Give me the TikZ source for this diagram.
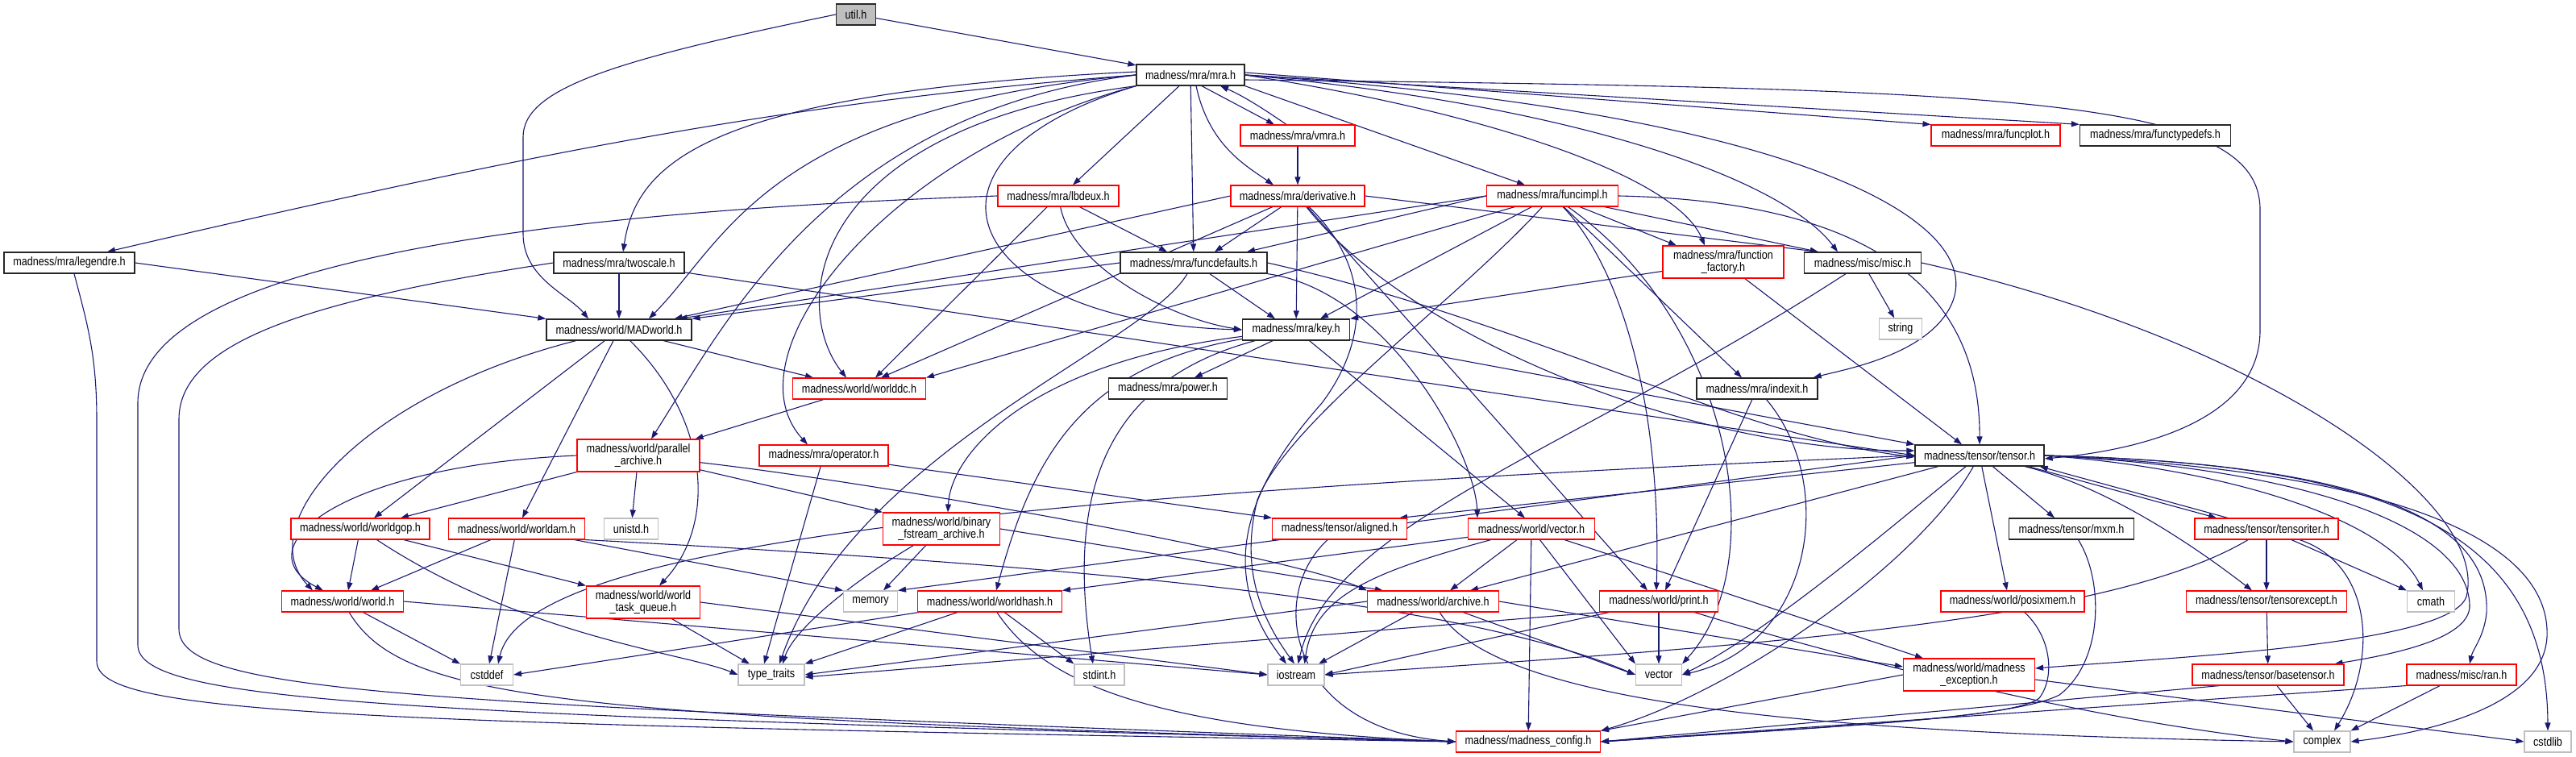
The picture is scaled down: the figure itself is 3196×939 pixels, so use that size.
\documentclass[tikz,border=0pt]{standalone}
\usepackage{fontspec}
\setmainfont{Liberation Sans}[FakeStretch=0.84]
\usepackage{xcolor}
\usepackage{tikz}
\usetikzlibrary{arrows.meta, backgrounds}

\definecolor{edgeblue}{HTML}{191970}
\definecolor{sysgray}{HTML}{BFBFBF}
\definecolor{boxred}{HTML}{FF0000}
\newcommand{\hfont}{\fontsize{15}{15}\selectfont}

\begin{document}
\begin{tikzpicture}[
  x=1pt, y=-1pt,
  hdr/.style={draw=black!85, line width=1.3pt, fill=white, inner sep=0pt, minimum height=26pt, font=\hfont, align=center},
  redhdr/.style={hdr, draw=boxred, line width=1.1pt},
  syshdr/.style={hdr, draw=sysgray, line width=1.1pt},
  roothdr/.style={hdr, fill=sysgray},
  tall/.style={minimum height=40pt},
  incl/.style={draw=edgeblue, line width=1.1pt, -{Triangle[length=10pt,width=7pt]}},
]
  \useasboundingbox (0,0) rectangle (3196,939);

  % ── Top rows ──
  \node[roothdr, minimum width=49pt] (util) at (1062,18) {util.h};
  \node[hdr, minimum width=134pt] (mra) at (1477,93) {madness/mra/mra.h};
  \node[redhdr, minimum width=142pt] (vmra) at (1610,168) {madness/mra/vmra.h};
  \node[redhdr, minimum width=160pt] (funcplot) at (2476,168) {madness/mra/funcplot.h};
  \node[hdr, minimum width=187pt] (functypedefs) at (2674,168) {madness/mra/functypedefs.h};
  \node[redhdr, minimum width=150pt] (lbdeux) at (1313,243) {madness/mra/lbdeux.h};
  \node[redhdr, minimum width=166pt] (derivative) at (1610,243) {madness/mra/derivative.h};
  \node[redhdr, minimum width=163pt] (funcimpl) at (1926,243) {madness/mra/funcimpl.h};

  % ── Middle rows ──
  \node[hdr, minimum width=162pt] (legendre) at (86,326) {madness/mra/legendre.h};
  \node[hdr, minimum width=162pt] (twoscale) at (768,326) {madness/mra/twoscale.h};
  \node[hdr, minimum width=182pt] (funcdefaults) at (1481,326) {madness/mra/funcdefaults.h};
  \node[redhdr, tall, minimum width=150pt] (factory) at (2138,325) {madness/mra/function\\\_factory.h};
  \node[hdr, minimum width=145pt] (misc) at (2311,326) {madness/misc/misc.h};
  \node[hdr, minimum width=180pt] (MADworld) at (768,409) {madness/world/MADworld.h};
  \node[hdr, minimum width=133pt] (key) at (1608,409) {madness/mra/key.h};
  \node[syshdr, minimum width=53pt] (string) at (2358,408) {string};
  \node[redhdr, minimum width=165pt] (worlddc) at (1066,482) {madness/world/worlddc.h};
  \node[hdr, minimum width=147pt] (power) at (1449,482) {madness/mra/power.h};
  \node[hdr, minimum width=150pt] (indexit) at (2180,482) {madness/mra/indexit.h};
  \node[redhdr, tall, minimum width=152pt] (parallel) at (792,565) {madness/world/parallel\\\_archive.h};
  \node[redhdr, minimum width=160pt] (operator) at (1022,565) {madness/mra/operator.h};
  \node[hdr, minimum width=160pt] (tensor) at (2456,565) {madness/tensor/tensor.h};

  % ── Lower rows ──
  \node[redhdr, minimum width=172pt] (worldgop) at (447,656) {madness/world/worldgop.h};
  \node[redhdr, minimum width=169pt] (worldam) at (641,656) {madness/world/worldam.h};
  \node[syshdr, minimum width=67pt] (unistd) at (783,656) {unistd.h};
  \node[redhdr, tall, minimum width=145pt] (binary) at (1168,656) {madness/world/binary\\\_fstream\_archive.h};
  \node[redhdr, minimum width=167pt] (aligned) at (1662,656) {madness/tensor/aligned.h};
  \node[redhdr, minimum width=157pt] (vectorh) at (1900,656) {madness/world/vector.h};
  \node[hdr, minimum width=155pt] (mxm) at (2570,656) {madness/tensor/mxm.h};
  \node[redhdr, minimum width=178pt] (tensoriter) at (2812,656) {madness/tensor/tensoriter.h};
  \node[redhdr, minimum width=151pt] (world) at (425,746) {madness/world/world.h};
  \node[redhdr, tall, minimum width=141pt] (taskq) at (798,747) {madness/world/world\\\_task\_queue.h};
  \node[syshdr, minimum width=67pt] (memory) at (1080,746) {memory};
  \node[redhdr, minimum width=179pt] (worldhash) at (1228,746) {madness/world/worldhash.h};
  \node[redhdr, minimum width=163pt] (archive) at (1778,746) {madness/world/archive.h};
  \node[redhdr, minimum width=147pt] (print) at (2058,746) {madness/world/print.h};
  \node[redhdr, minimum width=178pt] (posixmem) at (2497,746) {madness/world/posixmem.h};
  \node[redhdr, minimum width=199pt] (tensorexcept) at (2812,746) {madness/tensor/tensorexcept.h};
  \node[syshdr, minimum width=59pt] (cmath) at (3016,746) {cmath};

  % ── Bottom rows ──
  \node[syshdr, minimum width=65pt] (cstddef) at (604,837) {cstddef};
  \node[syshdr, minimum width=82pt] (typetraits) at (957,837) {type\_traits};
  \node[syshdr, minimum width=62pt] (stdint) at (1364,837) {stdint.h};
  \node[syshdr, minimum width=70pt] (iostream) at (1608,837) {iostream};
  \node[syshdr, minimum width=57pt] (vector) at (2058,837) {vector};
  \node[redhdr, tall, minimum width=163pt] (exception) at (2443,837) {madness/world/madness\\\_exception.h};
  \node[redhdr, minimum width=188pt] (basetensor) at (2814,837) {madness/tensor/basetensor.h};
  \node[redhdr, minimum width=136pt] (ran) at (3054,837) {madness/misc/ran.h};
  \node[redhdr, minimum width=179pt] (config) at (1896,920) {madness/madness\_config.h};
  \node[syshdr, minimum width=70pt] (complex) at (2881,920) {complex};
  \node[syshdr, minimum width=58pt] (cstdlib) at (3161,920) {cstdlib};

  \begin{scope}[on background layer]
  % ── util.h ──
  \draw[incl] (util) -- (mra);
  \draw[incl] (util.west) .. controls (760,75) and (649,110) .. (649,170) -- (649,290) .. controls (649,345) and (705,365) .. ([xshift=-38pt]MADworld.north);

  % ── mra.h ──
  \draw[incl] ([xshift=14pt]mra.south) -- ([xshift=-29pt]vmra.north);
  \draw[incl] ([xshift=-14pt]vmra.north) .. controls (1575,140) and (1545,120) .. ([xshift=37pt]mra.south);
  \draw[incl] ([yshift=3pt]mra.east) -- (funcplot.north west);
  \draw[incl] (mra.east) -- (functypedefs.north west);
  \draw[incl] ([yshift=-6pt]mra.east) .. controls (2500,110) and (2804,120) .. (2804,260) -- (2804,410) .. controls (2804,520) and (2660,558) .. ([yshift=-4pt]tensor.east);
  \draw[incl] (mra.west) .. controls (1000,125) and (700,180) .. ([xshift=47pt]legendre.north);
  \draw[incl] ([yshift=4pt]mra.west) .. controls (880,115) and (790,200) .. ([xshift=5pt]twoscale.north);
  \draw[incl] (mra.west) .. controls (950,135) and (900,300) .. ([xshift=37pt]MADworld.north);
  \draw[incl] (mra.west) .. controls (1030,140) and (900,400) .. ([xshift=16pt]parallel.north);
  \draw[incl] (mra.south west) .. controls (1000,160) and (980,380) .. ([xshift=-16pt]worlddc.north);
  \draw[incl] (mra.south west) .. controls (1100,190) and (900,440) .. ([xshift=-20pt]operator.north);
  \draw[incl] (mra.south west) .. controls (1100,200) and (1200,400) .. (key.west);
  \draw[incl] ([xshift=-14pt]mra.south) -- ([xshift=18pt]lbdeux.north);
  \draw[incl] (mra) -- (funcdefaults);
  \draw[incl] ([xshift=7pt]mra.south) .. controls (1500,180) and (1545,205) .. ([xshift=-30pt]derivative.north);
  \draw[incl] (mra.south east) -- ([xshift=-34pt]funcimpl.north);
  \draw[incl] (mra.east) .. controls (1850,140) and (2080,220) .. ([xshift=-23pt]factory.north);
  \draw[incl] (mra.east) .. controls (1950,130) and (2210,220) .. ([xshift=-31pt]misc.north);
  \draw[incl] (mra.east) .. controls (2250,140) and (2470,280) .. (2420,380) .. controls (2390,440) and (2290,458) .. ([xshift=-6pt]indexit.north east);

  % ── vmra.h, legendre.h, twoscale.h ──
  \draw[incl] (vmra) -- (derivative);
  \draw[incl] (legendre.east) -- (MADworld.north west);
  \draw[incl] ([xshift=6pt]legendre.south) .. controls (108,400) and (120,440) .. (120,520) -- (120,820) .. controls (120,885) and (400,897) .. (config.west);
  \draw[incl] (twoscale) -- (MADworld);
  \draw[incl] (twoscale.west) .. controls (400,370) and (222,420) .. (222,520) -- (222,780) .. controls (222,860) and (500,872) .. (config.west);
  \draw[incl] (twoscale) -- (tensor.west);

  % ── lbdeux.h ──
  \draw[incl] (lbdeux) -- ([xshift=-33pt]funcdefaults.north);
  \draw[incl] (lbdeux) -- ([xshift=20pt]worlddc.north);
  \draw[incl] (lbdeux) .. controls (1330,330) and (1450,395) .. (key.west);
  \draw[incl] (lbdeux.west) .. controls (700,262) and (171,320) .. (171,500) -- (171,800) .. controls (171,872) and (500,886) .. (config.west);

  % ── derivative.h ──
  \draw[incl] (derivative) -- ([xshift=26pt]funcdefaults.north);
  \draw[incl] (derivative.west) -- ([xshift=-22pt]MADworld.north east);
  \draw[incl] (derivative) -- ([xshift=27pt]worlddc.north);
  \draw[incl] (derivative) -- (key);
  \draw[incl] (derivative.east) -- ([xshift=18pt]misc.north west);
  \draw[incl] (derivative) .. controls (1750,420) and (2100,560) .. ([yshift=6pt]tensor.west);
  \draw[incl] (derivative) .. controls (1700,330) and (1700,420) .. (1640,500) .. controls (1560,590) and (1500,700) .. ([xshift=-12pt]iostream.north);
  \draw[incl] (derivative) -- ([xshift=-14pt]print.north);

  % ── funcimpl.h ──
  \draw[incl] (funcimpl.west) -- ([xshift=66pt]funcdefaults.north);
  \draw[incl] (funcimpl.west) -- ([xshift=-16pt]MADworld.north east);
  \draw[incl] (funcimpl) -- ([xshift=30pt]key.north);
  \draw[incl] (funcimpl) -- (worlddc.north east);
  \draw[incl] (funcimpl) -- ([xshift=18pt]misc.north west);
  \draw[incl] (funcimpl) -- ([xshift=-58pt]factory.north);
  \draw[incl] (funcimpl) -- ([xshift=-19pt]indexit.north);
  \draw[incl] (funcimpl) .. controls (2010,330) and (2062,500) .. ([xshift=-3pt]print.north);
  \draw[incl] (funcimpl) .. controls (1800,380) and (1600,520) .. (1560,620) .. controls (1540,700) and (1560,760) .. ([xshift=-2pt]iostream.north);
  \draw[incl] (funcimpl.east) .. controls (2350,250) and (2457,380) .. (tensor.north);
  \draw[incl] (funcimpl) .. controls (2150,400) and (2200,700) .. (vector.north east);

  % ── funcdefaults.h, function_factory.h, misc.h ──
  \draw[incl] (funcdefaults.west) -- (MADworld.north east);
  \draw[incl] (funcdefaults) -- ([xshift=-26pt]key.north);
  \draw[incl] (funcdefaults.east) .. controls (1900,400) and (2150,540) .. ([yshift=-2pt]tensor.west);
  \draw[incl] (funcdefaults.south east) .. controls (1720,360) and (1830,560) .. ([xshift=-67pt]vectorh.north);
  \draw[incl] (funcdefaults) .. controls (1420,430) and (1060,560) .. ([xshift=10pt]typetraits.north);
  \draw[incl] (factory) -- (key.north east);
  \draw[incl] (factory) -- ([xshift=-22pt]tensor.north);
  \draw[incl] (misc) -- (string);
  \draw[incl] (misc) .. controls (1950,560) and (1650,650) .. ([xshift=-33pt]iostream.north east);
  \draw[incl] (misc.east) .. controls (2800,420) and (3090,620) .. (3060,740) .. controls (3040,800) and (2700,815) .. ([yshift=8pt]exception.east);

  % ── key.h ──
  \draw[incl] (key) -- ([xshift=33pt]power.north);
  \draw[incl] (key) -- (tensor.north west);
  \draw[incl] (key) .. controls (1340,455) and (1280,570) .. ([xshift=8pt]worldhash.north);
  \draw[incl] (key) .. controls (1280,450) and (1180,560) .. ([xshift=8pt]binary.north);
  \draw[incl] (key) -- ([xshift=-8pt]vectorh.north);
  \draw[incl] (key) .. controls (1380,470) and (1320,600) .. ([xshift=-8pt]stdint.north);

  % ── world headers ──
  \draw[incl] (worlddc) -- ([xshift=-6pt]parallel.north east);
  \draw[incl] (MADworld) -- ([xshift=-57pt]worlddc.north);
  \draw[incl] (MADworld) -- ([xshift=17pt]worldgop.north);
  \draw[incl] (MADworld) -- ([xshift=7pt]worldam.north);
  \draw[incl] (MADworld) .. controls (450,490) and (310,650) .. ([xshift=-37pt]world.north);
  \draw[incl] (MADworld) .. controls (880,520) and (890,650) .. ([xshift=20pt]taskq.north);
  \draw[incl] (parallel.south west) -- ([xshift=50pt]worldgop.north);
  \draw[incl] (parallel.west) .. controls (420,578) and (300,680) .. ([xshift=-24pt]world.north);
  \draw[incl] (parallel) -- (binary.north west);
  \draw[incl] (parallel) .. controls (1100,600) and (1600,690) .. (archive.north west);
  \draw[incl] (parallel) -- (unistd);
  \draw[incl] (worldgop) -- ([xshift=7pt]world.north);
  \draw[incl] (worldgop) -- (taskq.north west);
  \draw[incl] (worldgop) .. controls (650,790) and (850,810) .. (typetraits.west);
  \draw[incl] (worldam) -- ([xshift=35pt]world.north);
  \draw[incl] (worldam) -- ([xshift=3pt]cstddef.north);
  \draw[incl] (worldam) -- (memory.north west);
  \draw[incl] (worldam.south east) .. controls (1300,700) and (1800,740) .. (vector.west);
  \draw[incl] (world) -- (cstddef.north west);
  \draw[incl] (world) .. controls (500,870) and (700,890) .. (config.west);
  \draw[incl] (world.east) -- (iostream.west);
  \draw[incl] (taskq) -- ([xshift=-27pt]typetraits.north);
  \draw[incl] (taskq.east) -- (iostream.west);
  \draw[incl] (binary) -- ([xshift=16pt]memory.north);
  \draw[incl] (binary) .. controls (1060,720) and (985,780) .. ([xshift=14pt]typetraits.north);
  \draw[incl] (binary.east) -- ([xshift=20pt]archive.north west);
  \draw[incl] (worldhash) -- (cstddef.east);
  \draw[incl] (worldhash) -- (typetraits.north east);
  \draw[incl] (worldhash) -- (stdint.north west);
  \draw[incl] (worldhash) .. controls (1300,855) and (1450,905) .. (config.west);

  % ── aligned.h, operator.h, vector.h ──
  \draw[incl] (aligned) .. controls (1570,740) and (1600,905) .. (config.west);
  \draw[incl] (operator) -- (aligned.north west);
  \draw[incl] (operator) -- ([xshift=-9pt]typetraits.north);
  \draw[incl] (vectorh) -- (worldhash.north east);
  \draw[incl] (vectorh) .. controls (1700,710) and (1630,740) .. ([xshift=-25pt]iostream.north east);
  \draw[incl] (vectorh) -- ([xshift=21pt]archive.north);
  \draw[incl] (vectorh) -- (config);
  \draw[incl] (vectorh) -- (vector.north west);
  \draw[incl] (vectorh) -- ([xshift=25pt]exception.north west);

  % ── archive.h, print.h, indexit.h ──
  \draw[incl] (archive.west) -- (typetraits.east);
  \draw[incl] (archive) -- ([xshift=28pt]iostream.north);
  \draw[incl] (archive) -- (vector.west);
  \draw[incl] (archive) .. controls (1860,880) and (2300,910) .. (complex.west);
  \draw[incl] (archive.east) -- ([yshift=10pt]exception.west);
  \draw[incl] (print.south west) -- ([yshift=-3pt]typetraits.east);
  \draw[incl] (print) -- (iostream.east);
  \draw[incl] (print) -- (vector);
  \draw[incl] (print) .. controls (2300,820) and (2600,895) .. (complex.west);
  \draw[incl] (indexit) -- ([xshift=8pt]print.north);
  \draw[incl] (indexit) .. controls (2280,600) and (2250,800) .. (vector.east);

  % ── tensor.h ──
  \draw[incl] (tensor) -- ([xshift=-10pt]aligned.north east);
  \draw[incl] (tensor.west) -- (memory.north east);
  \draw[incl] (tensor.west) .. controls (1200,615) and (650,680) .. ([xshift=14pt]cstddef.north);
  \draw[incl] (tensor) -- ([xshift=-21pt]mxm.north);
  \draw[incl] ([xshift=-20pt]tensor.south east) -- ([xshift=-62pt]tensoriter.north);
  \draw[incl] ([xshift=-48pt]tensoriter.north) -- ([xshift=-6pt]tensor.south east);
  \draw[incl] (tensor) .. controls (2600,600) and (2700,660) .. ([xshift=-18pt]tensorexcept.north);
  \draw[incl] (tensor) -- ([xshift=-7pt]posixmem.north);
  \draw[incl] (tensor.east) .. controls (2750,580) and (2960,640) .. ([xshift=-10pt]cmath.north);
  \draw[incl] (tensor.east) .. controls (2850,580) and (3060,650) .. (3064,750) .. controls (3066,790) and (2980,810) .. ([xshift=-12pt]basetensor.north east);
  \draw[incl] (tensor.east) .. controls (2950,575) and (3090,650) .. (3085,760) .. controls (3082,790) and (3068,805) .. ([xshift=10pt]ran.north);
  \draw[incl] (tensor.east) .. controls (3000,585) and (3165,680) .. (3160,790) .. controls (3155,880) and (3000,910) .. (complex.east);
  \draw[incl] (tensor.east) .. controls (2950,575) and (3160,650) .. (cstdlib.north);
  \draw[incl] (tensor) .. controls (2380,700) and (2150,860) .. (config.north east);
  \draw[incl] (tensor) .. controls (2350,650) and (2200,780) .. (vector.east);
  \draw[incl] (tensor) -- ([xshift=46pt]archive.north);

  % ── tensor helpers ──
  \draw[incl] (tensoriter) -- (tensorexcept);
  \draw[incl] (tensoriter) -- (cmath.north west);
  \draw[incl] (tensoriter) .. controls (2945,700) and (2950,820) .. ([xshift=15pt]complex.north);
  \draw[incl] (tensoriter) .. controls (2620,770) and (2200,800) .. (iostream.east);
  \draw[incl] (tensorexcept) -- (basetensor);
  \draw[incl] (basetensor) -- ([xshift=-11pt]complex.north);
  \draw[incl] ([xshift=-60pt]basetensor.south) -- (config.east);
  \draw[incl] (ran) -- (complex.north east);
  \draw[incl] (ran.south west) -- (config.east);
  \draw[incl] (mxm) .. controls (2610,720) and (2610,820) .. (2555,862) .. controls (2500,890) and (2300,900) .. (config.east);
  \draw[incl] (posixmem) .. controls (2545,790) and (2550,840) .. (2530,866) .. controls (2500,890) and (2300,900) .. (config.east);
  \draw[incl] (exception.west) -- (config.north east);
  \draw[incl] ([yshift=-6pt]exception.east) -- (cstdlib.west);
  \end{scope}

\end{tikzpicture}
\end{document}
